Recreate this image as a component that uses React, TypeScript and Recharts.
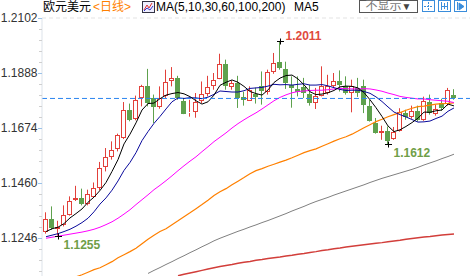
import React from "react";
import { ComposedChart, Bar, Line, XAxis, YAxis, ReferenceLine, ReferenceDot } from "recharts";

// EUR/USD daily candles, oldest first
const opens = [
  1.1268, 1.1320, 1.1280, 1.1295, 1.1337, 1.1392, 1.1403, 1.1377, 1.1406, 1.1441,
  1.1522, 1.1563, 1.1592, 1.1635, 1.1745, 1.1708, 1.1789, 1.1839, 1.1791, 1.1755,
  1.1797, 1.1855, 1.1869, 1.1780, 1.1732, 1.1735, 1.1778, 1.1807, 1.1836, 1.1866,
  1.1924, 1.1834, 1.1850, 1.1793, 1.1781, 1.1807, 1.1839, 1.1813, 1.1890, 1.1929,
  1.1904, 1.1842, 1.1826, 1.1832, 1.1807, 1.1771, 1.1800, 1.1810, 1.1839, 1.1858,
  1.1836, 1.1810, 1.1830, 1.1836, 1.1761, 1.1693, 1.1655, 1.1663, 1.1632, 1.1663,
  1.1732, 1.1716, 1.1741, 1.1706, 1.1776, 1.1728, 1.1772, 1.1769, 1.1804,
];
const highs = [
  1.1346, 1.1369, 1.1313, 1.1373, 1.1408, 1.1449, 1.1438, 1.1434, 1.1462, 1.1542,
  1.1596, 1.1622, 1.1652, 1.1775, 1.1769, 1.1800, 1.1842, 1.1904, 1.1804, 1.1836,
  1.1901, 1.1911, 1.1877, 1.1791, 1.1784, 1.1810, 1.1855, 1.1877, 1.1888, 1.1963,
  1.1940, 1.1859, 1.1877, 1.1815, 1.1836, 1.1831, 1.1894, 1.1901, 1.1966, 1.2011,
  1.1932, 1.1875, 1.1875, 1.1869, 1.1842, 1.1830, 1.1914, 1.1881, 1.1888, 1.1898,
  1.1875, 1.1862, 1.1869, 1.1862, 1.1784, 1.1713, 1.1683, 1.1680, 1.1678, 1.1751,
  1.1745, 1.1761, 1.1761, 1.1796, 1.1804, 1.1765, 1.1788, 1.1830, 1.1825,
];
const lows = [
  1.1263, 1.1278, 1.1255, 1.1291, 1.1333, 1.1390, 1.1373, 1.1373, 1.1403, 1.1431,
  1.1505, 1.1551, 1.1583, 1.1631, 1.1700, 1.1704, 1.1758, 1.1758, 1.1693, 1.1749,
  1.1791, 1.1836, 1.1784, 1.1728, 1.1718, 1.1714, 1.1771, 1.1797, 1.1823, 1.1864,
  1.1823, 1.1823, 1.1752, 1.1761, 1.1780, 1.1769, 1.1765, 1.1804, 1.1885, 1.1901,
  1.1826, 1.1753, 1.1797, 1.1791, 1.1761, 1.1748, 1.1797, 1.1804, 1.1831, 1.1816,
  1.1804, 1.1735, 1.1795, 1.1732, 1.1699, 1.1652, 1.1628, 1.1612, 1.1628, 1.1660,
  1.1706, 1.1710, 1.1699, 1.1702, 1.1726, 1.1722, 1.1741, 1.1761, 1.1784,
];
const closes = [
  1.1320, 1.1285, 1.1290, 1.1337, 1.1390, 1.1403, 1.1377, 1.1417, 1.1439, 1.1518,
  1.1561, 1.1590, 1.1647, 1.1745, 1.1706, 1.1784, 1.1839, 1.1772, 1.1755, 1.1791,
  1.1853, 1.1869, 1.1791, 1.1730, 1.1735, 1.1774, 1.1806, 1.1834, 1.1862, 1.1924,
  1.1836, 1.1849, 1.1791, 1.1782, 1.1823, 1.1796, 1.1819, 1.1890, 1.1927, 1.1906,
  1.1849, 1.1830, 1.1813, 1.1810, 1.1771, 1.1797, 1.1839, 1.1839, 1.1855, 1.1840,
  1.1810, 1.1836, 1.1810, 1.1765, 1.1700, 1.1655, 1.1663, 1.1625, 1.1658, 1.1735,
  1.1718, 1.1741, 1.1706, 1.1778, 1.1732, 1.1749, 1.1753, 1.1821, 1.1789,
];

// moving averages as drawn on the chart
const blank = (n: number) => Array(n).fill(null);
const ma5 = [
  1.1271, 1.1282, 1.1288, 1.1302, 1.1324, 1.1341, 1.1359, 1.1385, 1.1405, 1.1431,
  1.1462, 1.1505, 1.1551, 1.1612, 1.1650, 1.1694, 1.1744, 1.1769, 1.1771, 1.1788,
  1.1802, 1.1808, 1.1812, 1.1807, 1.1796, 1.1780, 1.1767, 1.1776, 1.1802, 1.1840,
  1.1852, 1.1861, 1.1852, 1.1836, 1.1816, 1.1808, 1.1802, 1.1822, 1.1851, 1.1868,
  1.1878, 1.1880, 1.1865, 1.1842, 1.1815, 1.1804, 1.1806, 1.1811, 1.1820, 1.1834,
  1.1837, 1.1836, 1.1830, 1.1812, 1.1784, 1.1753, 1.1719, 1.1682, 1.1660, 1.1667,
  1.1680, 1.1695, 1.1712, 1.1736, 1.1735, 1.1741, 1.1744, 1.1767, 1.1760,
];
const ma10 = [
  1.1251, 1.1257, 1.1263, 1.1271, 1.1280, 1.1292, 1.1306, 1.1323, 1.1348, 1.1378,
  1.1402, 1.1432, 1.1468, 1.1509, 1.1540, 1.1578, 1.1625, 1.1660, 1.1692, 1.1719,
  1.1748, 1.1776, 1.1791, 1.1789, 1.1792, 1.1791, 1.1788, 1.1794, 1.1805, 1.1818,
  1.1816, 1.1814, 1.1814, 1.1819, 1.1828, 1.1830, 1.1832, 1.1837, 1.1844, 1.1842,
  1.1843, 1.1841, 1.1844, 1.1846, 1.1841, 1.1841, 1.1843, 1.1838, 1.1831, 1.1824,
  1.1820, 1.1821, 1.1821, 1.1816, 1.1809, 1.1795, 1.1777, 1.1756, 1.1736, 1.1726,
  1.1717, 1.1707, 1.1697, 1.1698, 1.1701, 1.1711, 1.1720, 1.1739, 1.1752,
];
const ma30 = [
  1.1245, 1.1249, 1.1253, 1.1257, 1.1261, 1.1265, 1.1269, 1.1274, 1.1280, 1.1288,
  1.1298, 1.1309, 1.1323, 1.1339, 1.1356, 1.1376, 1.1395, 1.1414, 1.1434, 1.1451,
  1.1469, 1.1488, 1.1508, 1.1527, 1.1545, 1.1562, 1.1582, 1.1601, 1.1621, 1.1638,
  1.1655, 1.1674, 1.1691, 1.1706, 1.1720, 1.1733, 1.1748, 1.1764, 1.1780, 1.1793,
  1.1803, 1.1811, 1.1816, 1.1818, 1.1820, 1.1821, 1.1821, 1.1823, 1.1826, 1.1828,
  1.1827, 1.1826, 1.1826, 1.1827, 1.1826, 1.1822, 1.1817, 1.1810, 1.1804, 1.1797,
  1.1793, 1.1790, 1.1787, 1.1787, 1.1784, 1.1782, 1.1780, 1.1778, 1.1773,
];
const ma60 = [
  ...blank(5),
  1.1095, 1.1103, 1.1113, 1.1123, 1.1130, 1.1142, 1.1154, 1.1169, 1.1181, 1.1193,
  1.1206, 1.1224, 1.1241, 1.1257, 1.1271, 1.1282, 1.1298, 1.1313, 1.1329, 1.1344,
  1.1360, 1.1376, 1.1393, 1.1411, 1.1426, 1.1438, 1.1453, 1.1467, 1.1481, 1.1496,
  1.1508, 1.1516, 1.1525, 1.1533, 1.1541, 1.1549, 1.1558, 1.1568, 1.1578, 1.1586,
  1.1593, 1.1603, 1.1613, 1.1623, 1.1632, 1.1640, 1.1650, 1.1662, 1.1675, 1.1687,
  1.1699, 1.1708, 1.1718, 1.1726, 1.1734, 1.1743, 1.1751, 1.1757, 1.1759, 1.1763,
  1.1767, 1.1769, 1.1770, 1.1772,
];
const ma100 = [
  ...blank(17),
  1.1108, 1.1120, 1.1131, 1.1143, 1.1154, 1.1166, 1.1177, 1.1189, 1.1200, 1.1212,
  1.1223, 1.1235, 1.1245, 1.1254, 1.1263, 1.1272, 1.1280, 1.1289, 1.1297, 1.1306,
  1.1314, 1.1323, 1.1332, 1.1341, 1.1351, 1.1360, 1.1369, 1.1379, 1.1388, 1.1396,
  1.1404, 1.1413, 1.1421, 1.1429, 1.1437, 1.1445, 1.1453, 1.1462, 1.1470, 1.1478,
  1.1485, 1.1492, 1.1499, 1.1506, 1.1513, 1.1521, 1.1530, 1.1538, 1.1546, 1.1555,
  1.1563, 1.1572,
];
const ma200 = [
  ...blank(22),
  1.1099, 1.1105, 1.1110, 1.1115, 1.1120, 1.1125, 1.1130, 1.1135, 1.1139, 1.1143,
  1.1148, 1.1152, 1.1155, 1.1159, 1.1162, 1.1166, 1.1169, 1.1172, 1.1176, 1.1179,
  1.1183, 1.1186, 1.1190, 1.1193, 1.1197, 1.1200, 1.1204, 1.1207, 1.1211, 1.1214,
  1.1217, 1.1220, 1.1223, 1.1226, 1.1228, 1.1231, 1.1234, 1.1237, 1.1241, 1.1244,
  1.1247, 1.1250, 1.1252, 1.1255, 1.1258, 1.1260, 1.1262,
];

const majorTicks = [1.1246, 1.146, 1.1674, 1.1888, 1.2102];
const lastPrice = 1.1789;
// extreme marks: candle index, price, which side
const marks = [
  { idx: 39, price: 1.2011, low: false },
  { idx: 57, price: 1.1612, low: true },
  { idx: 2, price: 1.1255, low: true },
];

const RED = "#e2403a";
const GREEN = "#5ea14d";
const FONT = "'Liberation Sans', Arial, 'Noto Sans CJK SC', sans-serif";

const data = closes.map((c, i) => ({
  idx: i,
  open: opens[i],
  high: highs[i],
  low: lows[i],
  close: c,
  range: [lows[i], highs[i]],
  ma5: ma5[i],
  ma10: ma10[i],
  ma30: ma30[i],
  ma60: ma60[i],
  ma100: ma100[i],
  ma200: ma200[i],
}));

// minor ticks every fifth of a major step
const yTicks: number[] = [];
for (let k = 0; k <= 25; k++) yTicks.push(Number((1.1032 + k * 0.00428).toFixed(5)));

function Candle(props: any) {
  const { x, y, width, height, payload } = props;
  if (!payload || height == null) return null;
  const { open, close, high, low } = payload;
  const k = height / (high - low || 1);
  const cx = Math.floor(x + width / 2 + 0.01) + 0.5;
  const yO = y + (high - open) * k;
  const yC = y + (high - close) * k;
  const top = Math.round(Math.min(yO, yC));
  const bot = Math.max(Math.round(Math.max(yO, yC)), top + 1);
  if (close >= open) {
    return (
      <g>
        <line x1={cx} x2={cx} y1={y} y2={top} stroke={RED} />
        <line x1={cx} x2={cx} y1={bot} y2={y + height} stroke={RED} />
        <rect x={cx - 2} y={top + 0.5} width={4} height={Math.max(bot - top - 1, 0)} fill="#fff" stroke={RED} />
      </g>
    );
  }
  return (
    <g>
      <line x1={cx} x2={cx} y1={y} y2={y + height} stroke={GREEN} />
      <rect x={cx - 2.5} y={top} width={5} height={bot - top} fill={GREEN} />
    </g>
  );
}

function YTick(props: any) {
  const { y, payload } = props;
  const v = payload.value;
  const yy = Math.round(y) + 0.5;
  if (majorTicks.some((m) => Math.abs(m - v) < 1e-6)) {
    return (
      <g>
        <line x1={38} x2={42} y1={yy} y2={yy} stroke="#9cc2e8" />
        <text x={37.5} y={y} dy={4} textAnchor="end" fontSize={12} fontFamily={FONT} fill="#333">
          {v.toFixed(4)}
        </text>
      </g>
    );
  }
  return <line x1={39} x2={42} y1={yy} y2={yy} stroke="#cfcfcf" />;
}

const markShape = (price: number, low: boolean) => (p: any) => {
  const X = Math.floor(p.cx + 0.01) + 0.5;
  const Y = Math.round(p.cy) + 0.5;
  return (
    <g>
      <line x1={X - 3.5} x2={X + 3.5} y1={Y} y2={Y} stroke="#000" />
      <line x1={X} x2={X} y1={Y - 3} y2={Y + 3} stroke="#000" />
      <text
        x={X + 5}
        y={low ? p.cy + 13 : p.cy - 1}
        fontSize={12}
        fontWeight="bold"
        fontFamily={FONT}
        fill={low ? "#6f9e48" : "#e04a3e"}
      >
        {price.toFixed(4)}
      </text>
    </g>
  );
};

function Header() {
  const txt: React.CSSProperties = { position: "absolute", top: 0, fontSize: 12, lineHeight: "14px", whiteSpace: "nowrap" };
  const btn = (left: number, icon: React.ReactNode) => (
    <svg style={{ position: "absolute", left, top: 0 }} width={13} height={13}>
      <rect x={0.5} y={0.5} width={12} height={11} fill="#fff" stroke="#3a8ddb" />
      {icon}
    </svg>
  );
  return (
    <div style={{ fontFamily: FONT }}>
      <span style={{ ...txt, left: 43, color: "#000" }}>欧元美元</span>
      <span style={{ ...txt, left: 93, color: "#ff7f00" }}>&lt;日线&gt;</span>
      <svg style={{ position: "absolute", left: 142, top: 1 }} width={13} height={12}>
        <rect x={0.5} y={0.5} width={12} height={11} fill="#eef" stroke="#334" />
        <polyline points="2,9 5,4 7,7 10,2" fill="none" stroke="#d33" />
        <polyline points="2,10 5,7 8,9 11,5" fill="none" stroke="#33c" />
      </svg>
      <span style={{ ...txt, left: 156, color: "#000" }}>MA(5,10,30,60,100,200)</span>
      <span style={{ ...txt, left: 294, color: "#000" }}>MA5</span>
      <div
        style={{
          position: "absolute", left: 359, top: 0, width: 59, height: 13, boxSizing: "border-box",
          border: "1px solid #555", fontSize: 12, lineHeight: "11px", color: "#777", textAlign: "center",
        }}
      >
        不显示<span style={{ color: "#444", fontSize: 10 }}>▼</span>
      </div>
      {btn(422, (
        <g stroke="#3a8ddb">
          <line x1={6.5} x2={6.5} y1={2} y2={10} strokeDasharray="2 1" />
          <line x1={2} x2={11} y1={6.5} y2={6.5} strokeDasharray="2 1" />
        </g>
      ))}
      {btn(438, (
        <g stroke="#3a8ddb">
          <line x1={3.5} x2={3.5} y1={2} y2={10} />
          <line x1={9.5} x2={9.5} y1={2} y2={10} />
          <line x1={3} x2={10} y1={6.5} y2={6.5} />
          <line x1={6.5} x2={6.5} y1={3} y2={9} />
        </g>
      ))}
      {btn(454, (
        <g stroke="#3a8ddb" fill="#3a8ddb">
          <line x1={3.5} x2={3.5} y1={2} y2={10} />
          <polygon points="5,3 10,6.5 5,10" />
        </g>
      ))}
    </div>
  );
}

export default function App() {
  return (
    <div style={{ position: "absolute", left: 0, top: 0, width: 470, height: 276, overflow: "hidden", background: "#fff" }}>
      <ComposedChart width={470} height={300} data={data} margin={{ top: 18, right: 0, bottom: 7, left: 0 }}>
        <XAxis dataKey="idx" type="number" domain={[-0.667, 70.667]} hide allowDataOverflow />
        <YAxis
          width={42}
          domain={[1.1032, 1.2102]}
          allowDataOverflow
          ticks={yTicks}
          interval={0}
          tickLine={false}
          axisLine={{ stroke: "#dde3ea" }}
          tick={(p: any) => <YTick {...p} />}
        />
        <ReferenceLine y={1.2102} stroke="#e3e3e3" strokeDasharray="4 3" />
        <Bar dataKey="range" barSize={5} shape={(p: any) => <Candle {...p} />} isAnimationActive={false} />
        <Line dataKey="ma200" stroke="#d23e3a" dot={false} strokeWidth={1.5} type="linear" isAnimationActive={false} />
        <Line dataKey="ma100" stroke="#808080" dot={false} strokeWidth={1} type="linear" isAnimationActive={false} />
        <Line dataKey="ma60" stroke="#ff8000" dot={false} strokeWidth={1.2} type="linear" isAnimationActive={false} />
        <Line dataKey="ma30" stroke="#ff00ff" dot={false} strokeWidth={1} type="linear" isAnimationActive={false} />
        <Line dataKey="ma10" stroke="#0a0a9c" dot={false} strokeWidth={1} type="linear" isAnimationActive={false} />
        <Line dataKey="ma5" stroke="#000" dot={false} strokeWidth={1} type="linear" isAnimationActive={false} />
        <ReferenceLine y={lastPrice} stroke="#2a84f0" strokeDasharray="5 3" />
        {marks.map((m) => (
          <ReferenceDot key={m.idx} x={m.idx} y={m.price} r={0} shape={markShape(m.price, m.low)} />
        ))}
      </ComposedChart>
      <Header />
    </div>
  );
}
